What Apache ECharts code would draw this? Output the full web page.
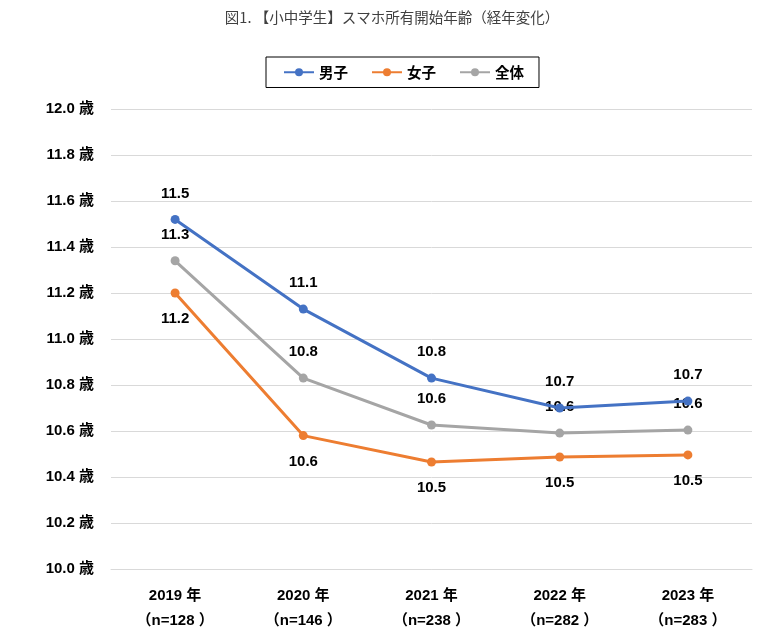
<!DOCTYPE html>
<html><head><meta charset="utf-8">
<script src="https://cdn.jsdelivr.net/npm/echarts@6/dist/echarts.min.js"></script>
<style>html,body{margin:0;padding:0;background:#fff}#c{width:784px;height:633px}</style>
</head><body><div id="c"></div>
<script>
const years = ['2019 年','2020 年','2021 年','2022 年','2023 年'];
const samples = ['（n=128 ）','（n=146 ）','（n=238 ）','（n=282 ）','（n=283 ）'];
const boys = [11.52, 11.13, 10.83, 10.70, 10.73];
const girls = [11.20, 10.58, 10.465, 10.487, 10.496];
const total = [11.34, 10.83, 10.626, 10.591, 10.604];
const seriesNames = ['男子','女子','全体'];
const colors = ['#4472C4','#ED7D31','#A5A5A5'];
const yTicks = {min:10, max:12, interval:0.2};

const FONT = '"Liberation Sans","Noto Sans CJK JP",sans-serif';
const cats = years.map((y,i)=>y+'\n'+samples[i]);
function mk(name, data, color, pos){
  return {
    name, type:'line', data, color,
    symbol:'circle', symbolSize:9,
    lineStyle:{width:3, color},
    itemStyle:{color},
    label:{show:true, position:pos, distance:14, fontFamily:FONT, fontWeight:'bold', fontSize:15, color:'#000',
      formatter:p=>(Math.round(p.value*10)/10).toFixed(1)},
    z: name==='男子'?3:2
  };
}
const chart = echarts.init(document.getElementById('c'));
chart.setOption({
  animation:false,
  title:{text:'図1. 【小中学生】スマホ所有開始年齢（経年変化）', left:'center', top:5,
    textStyle:{fontFamily:'"Noto Sans CJK JP",sans-serif', fontWeight:'normal', fontSize:14.5, color:'#404040'}},
  legend:{top:57, left:266, data:seriesNames, borderColor:'#000', borderWidth:1, padding:[8,15,8,17],
    itemWidth:30, itemHeight:10, itemGap:23,
    textStyle:{fontFamily:'"Noto Sans CJK JP",sans-serif', fontWeight:'bold', fontSize:14.5, color:'#000'}},
  grid:{left:111, right:32, top:109, bottom:64},
  xAxis:{type:'category', data:cats, boundaryGap:true,
    axisLine:{show:true, lineStyle:{color:'#d9d9d9'}}, axisTick:{show:false},
    axisLabel:{fontFamily:FONT, fontWeight:'bold', fontSize:15, color:'#000', margin:14, lineHeight:25}},
  yAxis:{type:'value', min:yTicks.min, max:yTicks.max, interval:yTicks.interval,
    axisLine:{show:false}, axisTick:{show:false},
    splitLine:{lineStyle:{color:'#d9d9d9'}},
    axisLabel:{fontFamily:FONT, fontWeight:'bold', fontSize:15, color:'#000', margin:17,
      formatter:v=>v.toFixed(1)+' 歳'}},
  series:[mk(seriesNames[0], boys, colors[0], 'top'), mk(seriesNames[1], girls, colors[1], 'bottom'), mk(seriesNames[2], total, colors[2], 'top')]
});
</script></body></html>
